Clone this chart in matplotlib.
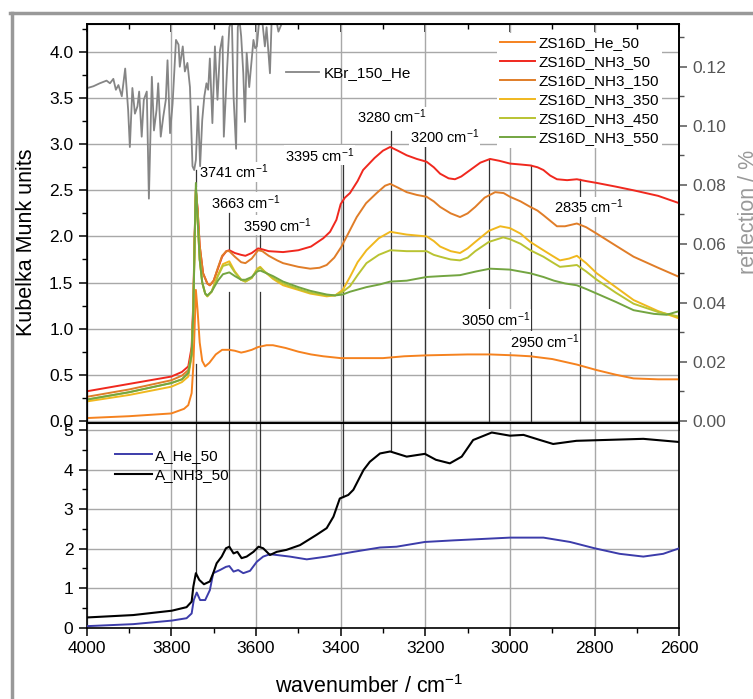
import matplotlib
matplotlib.use("Agg")
import matplotlib.pyplot as plt
from matplotlib.ticker import MultipleLocator, FormatStrFormatter
from matplotlib.lines import Line2D

plt.rcParams['font.family'] = ['Liberation Sans', 'DejaVu Sans']
plt.rcParams['mathtext.fontset'] = 'custom'
plt.rcParams['mathtext.rm'] = 'Liberation Sans'
plt.rcParams['mathtext.default'] = 'regular'

# ---- data ----
he50_wn = [4000, 3900, 3800, 3770, 3760, 3752, 3748, 3745, 3742, 3738, 3733, 3727, 3720, 3710, 3695,
           3680, 3663, 3650, 3635, 3625, 3610, 3595, 3575, 3560, 3530, 3500, 3470, 3441, 3400, 3300,
           3250, 3197, 3100, 3047, 2990, 2952, 2900, 2842, 2795, 2750, 2708, 2650, 2600]
he50_km = [0.03, 0.05, 0.08, 0.13, 0.17, 0.30, 0.60, 1.00, 1.42, 1.20, 0.85, 0.65, 0.59, 0.63, 0.72,
           0.77, 0.77, 0.76, 0.74, 0.75, 0.77, 0.80, 0.82, 0.82, 0.79, 0.75, 0.72, 0.70, 0.68, 0.68,
           0.70, 0.71, 0.72, 0.72, 0.71, 0.70, 0.67, 0.61, 0.55, 0.50, 0.46, 0.45, 0.45]

nh50_wn = [4000, 3900, 3800, 3775, 3760, 3752, 3748, 3745, 3742, 3738, 3733, 3725, 3715, 3709, 3700,
           3690, 3680, 3670, 3663, 3650, 3635, 3625, 3610, 3595, 3585, 3570, 3536, 3500, 3470, 3441,
           3425, 3410, 3400, 3390, 3378, 3360, 3347, 3320, 3300, 3283, 3265, 3244, 3220, 3197, 3180,
           3165, 3145, 3130, 3115, 3094, 3070, 3047, 3025, 3000, 2975, 2952, 2935, 2921, 2905, 2889,
           2865, 2842, 2820, 2795, 2750, 2708, 2650, 2600]
nh50_km = [0.32, 0.40, 0.48, 0.53, 0.59, 0.80, 1.30, 2.00, 2.50, 2.30, 1.90, 1.60, 1.49, 1.47, 1.52,
           1.65, 1.78, 1.84, 1.85, 1.82, 1.80, 1.79, 1.82, 1.87, 1.86, 1.84, 1.83, 1.85, 1.89, 1.98,
           2.05, 2.18, 2.35, 2.42, 2.47, 2.60, 2.72, 2.85, 2.93, 2.97, 2.93, 2.88, 2.84, 2.81, 2.75,
           2.68, 2.63, 2.62, 2.65, 2.72, 2.80, 2.84, 2.82, 2.79, 2.78, 2.77, 2.75, 2.72, 2.66, 2.62,
           2.61, 2.62, 2.60, 2.58, 2.54, 2.50, 2.44, 2.36]

nh150_wn = [4000, 3900, 3800, 3775, 3760, 3752, 3748, 3745, 3742, 3738, 3733, 3725, 3715, 3709, 3700,
            3690, 3680, 3670, 3663, 3650, 3635, 3625, 3610, 3595, 3585, 3570, 3550, 3536, 3500, 3472,
            3450, 3433, 3415, 3398, 3380, 3362, 3340, 3315, 3295, 3283, 3265, 3244, 3220, 3197, 3180,
            3165, 3140, 3118, 3100, 3082, 3060, 3035, 3015, 3000, 2975, 2952, 2935, 2921, 2905, 2889,
            2870, 2842, 2820, 2795, 2750, 2708, 2650, 2600]
nh150_km = [0.26, 0.34, 0.44, 0.49, 0.55, 0.75, 1.25, 1.95, 2.50, 2.30, 1.90, 1.60, 1.49, 1.47, 1.52,
            1.66, 1.79, 1.84, 1.84, 1.78, 1.72, 1.71, 1.76, 1.85, 1.84, 1.79, 1.74, 1.71, 1.67, 1.65,
            1.66, 1.69, 1.77, 1.89, 2.05, 2.21, 2.36, 2.47, 2.55, 2.57, 2.53, 2.48, 2.45, 2.43, 2.38,
            2.32, 2.25, 2.21, 2.25, 2.32, 2.42, 2.48, 2.47, 2.43, 2.38, 2.32, 2.28, 2.23, 2.17, 2.11,
            2.11, 2.14, 2.10, 2.03, 1.90, 1.78, 1.66, 1.56]

nh350_wn = [4000, 3900, 3800, 3775, 3760, 3752, 3748, 3745, 3742, 3738, 3733, 3727, 3720, 3715, 3705,
            3690, 3678, 3663, 3650, 3635, 3625, 3610, 3597, 3590, 3580, 3560, 3536, 3500, 3472, 3433,
            3413, 3395, 3378, 3360, 3339, 3310, 3283, 3244, 3197, 3180, 3165, 3140, 3118, 3100, 3082,
            3050, 3023, 3000, 2975, 2952, 2921, 2900, 2882, 2860, 2842, 2820, 2795, 2750, 2708, 2650, 2600]
nh350_km = [0.21, 0.28, 0.37, 0.42, 0.48, 0.70, 1.20, 1.90, 2.50, 2.20, 1.75, 1.50, 1.38, 1.35, 1.40,
            1.58, 1.70, 1.73, 1.62, 1.53, 1.51, 1.55, 1.65, 1.67, 1.62, 1.54, 1.47, 1.42, 1.38, 1.35,
            1.36, 1.42, 1.56, 1.72, 1.85, 1.98, 2.05, 2.02, 2.00, 1.95, 1.89, 1.84, 1.82, 1.87, 1.94,
            2.06, 2.11, 2.09, 2.03, 1.94, 1.85, 1.79, 1.74, 1.76, 1.79, 1.71, 1.60, 1.45, 1.31, 1.19, 1.11]

nh450_wn = [4000, 3900, 3800, 3775, 3760, 3752, 3748, 3745, 3742, 3738, 3733, 3727, 3720, 3715, 3705,
            3690, 3678, 3663, 3650, 3635, 3625, 3610, 3597, 3590, 3580, 3560, 3536, 3500, 3472, 3433,
            3413, 3395, 3378, 3360, 3339, 3310, 3283, 3244, 3197, 3180, 3165, 3140, 3118, 3100, 3082,
            3050, 3016, 3000, 2975, 2952, 2921, 2900, 2882, 2860, 2842, 2820, 2795, 2750, 2708, 2650, 2600]
nh450_km = [0.23, 0.31, 0.41, 0.45, 0.52, 0.72, 1.20, 1.90, 2.52, 2.20, 1.75, 1.50, 1.38, 1.35, 1.40,
            1.57, 1.68, 1.70, 1.61, 1.53, 1.51, 1.55, 1.64, 1.66, 1.62, 1.55, 1.49, 1.43, 1.39, 1.36,
            1.36, 1.40, 1.46, 1.58, 1.71, 1.80, 1.85, 1.84, 1.84, 1.80, 1.78, 1.75, 1.74, 1.77, 1.84,
            1.94, 1.99, 1.97, 1.92, 1.85, 1.78, 1.72, 1.67, 1.68, 1.69, 1.62, 1.53, 1.39, 1.27, 1.18, 1.13]

nh550_wn = [4000, 3900, 3800, 3775, 3760, 3752, 3748, 3745, 3742, 3738, 3733, 3727, 3720, 3715, 3705,
            3690, 3678, 3663, 3650, 3635, 3625, 3610, 3597, 3590, 3580, 3560, 3536, 3500, 3472, 3433,
            3413, 3395, 3378, 3339, 3307, 3283, 3244, 3197, 3160, 3118, 3080, 3047, 3000, 2952, 2921,
            2896, 2870, 2842, 2820, 2795, 2750, 2708, 2660, 2630, 2600]
nh550_km = [0.23, 0.31, 0.41, 0.45, 0.52, 0.72, 1.20, 1.95, 2.58, 2.20, 1.75, 1.50, 1.38, 1.36, 1.40,
            1.52, 1.59, 1.61, 1.57, 1.53, 1.53, 1.56, 1.62, 1.63, 1.61, 1.57, 1.51, 1.45, 1.41, 1.37,
            1.36, 1.37, 1.40, 1.45, 1.48, 1.51, 1.52, 1.56, 1.57, 1.58, 1.62, 1.65, 1.64, 1.60, 1.56,
            1.52, 1.49, 1.47, 1.43, 1.38, 1.29, 1.20, 1.16, 1.15, 1.19]

kbr_wn = [3998, 3984, 3969, 3953, 3945, 3937, 3931, 3925, 3917, 3909, 3902, 3898, 3892, 3886, 3880,
          3876, 3870, 3865, 3858, 3853, 3846, 3841, 3835, 3831, 3825, 3819, 3813, 3809, 3803, 3797,
          3789, 3783, 3780, 3773, 3768, 3762, 3756, 3750, 3746, 3742, 3737, 3732, 3727, 3722, 3717,
          3713, 3709, 3703, 3697, 3691, 3685, 3679, 3676, 3669, 3663, 3657, 3653, 3647, 3643, 3639,
          3635, 3630, 3626, 3622, 3616, 3606, 3602, 3598, 3593, 3587, 3579, 3575, 3567, 3563, 3555,
          3547, 3539, 3528]
kbr_refl = [0.1128, 0.1134, 0.1144, 0.1153, 0.1144, 0.1159, 0.1122, 0.1138, 0.1100, 0.1194, 0.1053,
            0.0928, 0.1128, 0.1041, 0.1066, 0.1116, 0.0963, 0.1088, 0.1116, 0.0753, 0.1166, 0.0984,
            0.1053, 0.1144, 0.0963, 0.1031, 0.1088, 0.1222, 0.0975, 0.1075, 0.1291, 0.1275, 0.1200,
            0.1269, 0.1184, 0.1213, 0.1131, 0.0863, 0.0850, 0.0884, 0.1066, 0.0863, 0.1019, 0.1100,
            0.1144, 0.1122, 0.1228, 0.1009, 0.1269, 0.1088, 0.1256, 0.1303, 0.0963, 0.1172, 0.1334,
            0.1359, 0.1100, 0.0922, 0.1334, 0.1359, 0.1303, 0.1178, 0.1013, 0.1247, 0.1131, 0.1291,
            0.1263, 0.1269, 0.1347, 0.1381, 0.1269, 0.1334, 0.1178, 0.1359, 0.1381, 0.1319, 0.1347, 0.1391]

ahe_wn = [3998, 3890, 3799, 3764, 3752, 3747, 3740, 3732, 3720, 3709, 3701, 3685, 3671, 3663, 3653,
          3642, 3630, 3614, 3598, 3583, 3567, 3551, 3520, 3480, 3433, 3370, 3307, 3268, 3201, 3134,
          3000, 2921, 2858, 2800, 2741, 2685, 2638, 2600]
ahe_a = [0.04, 0.09, 0.18, 0.24, 0.36, 0.70, 0.89, 0.70, 0.70, 0.95, 1.38, 1.46, 1.54, 1.56, 1.42,
         1.46, 1.38, 1.44, 1.67, 1.80, 1.86, 1.84, 1.80, 1.73, 1.80, 1.92, 2.03, 2.05, 2.17, 2.21,
         2.28, 2.28, 2.17, 2.01, 1.87, 1.80, 1.87, 2.01]

anh_wn = [3998, 3890, 3799, 3764, 3752, 3748, 3742, 3734, 3723, 3709, 3701, 3693, 3681, 3671, 3663,
          3653, 3644, 3634, 3622, 3606, 3594, 3583, 3567, 3551, 3528, 3496, 3457, 3433, 3417, 3402,
          3382, 3370, 3346, 3331, 3307, 3283, 3244, 3201, 3175, 3142, 3114, 3087, 3043, 3000, 2968,
          2929, 2898, 2843, 2780, 2685, 2600]
anh_a = [0.26, 0.32, 0.43, 0.52, 0.66, 1.04, 1.38, 1.21, 1.10, 1.17, 1.38, 1.63, 1.80, 2.01, 2.05,
         1.88, 1.92, 1.76, 1.80, 1.92, 2.05, 2.01, 1.84, 1.92, 1.97, 2.09, 2.35, 2.52, 2.81, 3.27,
         3.36, 3.49, 3.99, 4.20, 4.41, 4.46, 4.33, 4.40, 4.25, 4.16, 4.33, 4.75, 4.94, 4.86, 4.88,
         4.75, 4.65, 4.73, 4.75, 4.78, 4.70]

# marked bands: position, label text position (wn, KM) and line extents
band_wn = [3741, 3663, 3590, 3395, 3280, 3200, 3050, 2950, 2835]
band_label_wn = [3734, 3706, 3630, 3531, 3361, 3236, 3115, 3000, 2896]
band_label_km = [2.70, 2.37, 2.12, 2.88, 3.30, 3.08, 1.10, 0.86, 2.32]
band_top_km = [2.72, 2.25, 2.08, 2.86, 3.14, 3.00, 2.84, 2.77, 2.62]
band_gap_km = [(2.55, 0.62), (1.85, 1.40), (1.87, 1.40), None, None, None, None, None, None]
bottom_band_a = [1.38, 2.05, 2.05, 3.30, 4.46, 4.40]

km_series = [
    ("ZS16D_He_50", he50_wn, he50_km, "#f5821f"),
    ("ZS16D_NH3_50", nh50_wn, nh50_km, "#f0281e"),
    ("ZS16D_NH3_150", nh150_wn, nh150_km, "#e07d28"),
    ("ZS16D_NH3_350", nh350_wn, nh350_km, "#f0b81e"),
    ("ZS16D_NH3_450", nh450_wn, nh450_km, "#b9c332"),
    ("ZS16D_NH3_550", nh550_wn, nh550_km, "#73a541"),
]

fig = plt.figure(figsize=(7.53, 6.99), dpi=100)
ax = fig.add_axes([0.1151, 0.3948, 0.787, 0.5709])
ax3 = fig.add_axes([0.1151, 0.1020, 0.787, 0.2928], sharex=ax)
ax2 = ax.twinx()

# gray frame around the figure
fig.add_artist(Line2D([10 / 753, 1], [1 - 13 / 699, 1 - 13 / 699], color="#999999", lw=2.5))
fig.add_artist(Line2D([12 / 753, 12 / 753], [0, 1 - 13 / 699], color="#999999", lw=2.5))

ylo, yhi = -0.024, 4.304
line_col = "#333333"

for name, wn, km, col in km_series:
    ax.plot(wn, km, color=col, lw=1.4, label=name, zorder=3)

for i, wn in enumerate(band_wn):
    gap = band_gap_km[i]
    if gap is None:
        ax.plot([wn, wn], [band_top_km[i], ylo], color=line_col, lw=0.9, zorder=2)
    else:
        ax.plot([wn, wn], [band_top_km[i], gap[0]], color=line_col, lw=0.9, zorder=2)
        ax.plot([wn, wn], [gap[1], ylo], color=line_col, lw=0.9, zorder=2)
    ax.text(band_label_wn[i], band_label_km[i], f"{wn} cm$^{{-1}}$", ha="left", va="center",
            fontsize=10.5, zorder=4,
            bbox=dict(facecolor="white", edgecolor="none", pad=0.5))

ax2.plot(kbr_wn, kbr_refl, color="#858585", lw=1.3, label="KBr_150_He")

ax3.plot(ahe_wn, ahe_a, color="#3c3caa", lw=1.4, label="A_He_50", zorder=3)
ax3.plot(anh_wn, anh_a, color="black", lw=1.5, label="A_NH3_50", zorder=3)
for wn, a in zip(band_wn, bottom_band_a):
    ax3.plot([wn, wn], [5.18, a], color=line_col, lw=0.9, zorder=2)

# axes, ticks, grid
ax.set_xlim(4000, 2600)
ax.set_ylim(ylo, yhi)
ax2.set_ylim(ylo / 32, yhi / 32)
ax3.set_ylim(0, 5.18)

grid_kw = dict(color="#a8a8a8", lw=1.0)
for a in (ax, ax3):
    a.xaxis.set_major_locator(MultipleLocator(200))
    a.xaxis.set_minor_locator(MultipleLocator(100))
    a.set_axisbelow(True)
    a.grid(True, which="major", **grid_kw)
    for s in a.spines.values():
        s.set_linewidth(1.2)
    a.tick_params(which="major", length=6, width=1.1, labelsize=12.5, direction="out")
    a.tick_params(which="minor", length=3.5, width=1.0, direction="out")

ax.yaxis.set_major_locator(MultipleLocator(0.5))
ax.yaxis.set_minor_locator(MultipleLocator(0.25))
ax.yaxis.set_major_formatter(FormatStrFormatter("%.1f"))
ax.tick_params(axis="x", which="both", labelbottom=False, top=False)
sec = ax.secondary_xaxis("top")
sec.xaxis.set_major_locator(MultipleLocator(200))
sec.xaxis.set_minor_locator(MultipleLocator(100))
sec.tick_params(which="major", direction="in", length=6, width=1.1, labeltop=False)
sec.tick_params(which="minor", direction="in", length=3.5, width=1.0)
sec.spines["top"].set_linewidth(1.2)

ax2.yaxis.set_major_locator(MultipleLocator(0.02))
ax2.yaxis.set_minor_locator(MultipleLocator(0.01))
ax2.yaxis.set_major_formatter(FormatStrFormatter("%.2f"))
ax2.tick_params(which="major", length=6, width=1.1, labelsize=12.5, colors="#555555")
ax2.tick_params(which="minor", length=3.5, width=1.0, colors="#555555")
ax2.spines["right"].set_linewidth(1.2)

ax3.yaxis.set_major_locator(MultipleLocator(1))
ax3.yaxis.set_minor_locator(MultipleLocator(0.5))
ax3.tick_params(axis="x", top=False)

ax.set_ylabel("Kubelka Munk units", fontsize=15.5)
ax.yaxis.set_label_coords(-0.084, 0.454)
ax2.set_ylabel("reflection / %", fontsize=15.5, color="#999999")
ax2.yaxis.set_label_coords(1.099, 0.529)
ax3.set_xlabel("wavenumber / cm$^{-1}$", fontsize=15.5)
ax3.xaxis.set_label_coords(0.476, -0.232)

# legends
leg = ax.legend(loc="upper left", bbox_to_anchor=(0.692, 0.977), fontsize=11, frameon=True,
                fancybox=False, framealpha=1, edgecolor="none", borderaxespad=0, borderpad=0.2,
                handlelength=2.3, handletextpad=0.25, labelspacing=0.33)
leg.set_zorder(5)
ax2.legend(loc="upper left", bbox_to_anchor=(0.336, 0.895), fontsize=11, frameon=False,
           borderaxespad=0, borderpad=0, handlelength=2.2, handletextpad=0.3)
ax3.legend(loc="upper left", bbox_to_anchor=(0.048, 0.875), fontsize=11, frameon=False,
           borderaxespad=0, borderpad=0, handlelength=2.4, handletextpad=0.2, labelspacing=0.35)

fig.savefig("out.png", dpi=100)
